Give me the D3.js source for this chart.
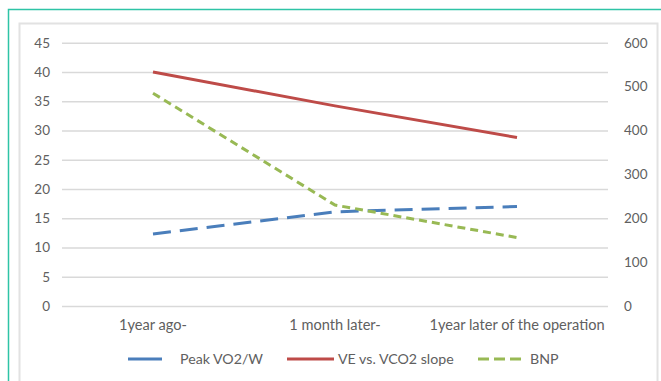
<!DOCTYPE html>
<html>
<head>
<meta charset="utf-8">
<script src="https://cdn.jsdelivr.net/npm/d3@7"></script>
<style>
  html, body { margin: 0; padding: 0; background: #fff; }
  svg { display: block; font-family: Lato, "Open Sans", sans-serif; }
</style>
</head>
<body>
<div id="chart"></div>
<script>
// Données
const categories = ["1year ago-", "1 month later-", "1year later of the operation"];
const peakVO2 = [12.3, 16.1, 17.0];      // axe gauche
const veVco2Slope = [40.0, 34.2, 28.8];  // axe gauche
const bnp = [485, 230, 156];             // axe droit
const leftTicks = [0, 5, 10, 15, 20, 25, 30, 35, 40, 45];
const rightTicks = [0, 100, 200, 300, 400, 500, 600];

const width = 661, height = 381;

const svg = d3.select("#chart")
  .append("svg")
  .attr("width", width)
  .attr("height", height);

// cadre turquoise + cadre gris
svg.append("path")
  .attr("d", `M8.5,${height} V9.5 H${width}`)
  .attr("fill", "none")
  .attr("stroke", "#2ec4a6")
  .attr("stroke-width", 1.5);

svg.append("rect")
  .attr("x", 19.5).attr("y", 23.5)
  .attr("width", 638).attr("height", 400)
  .attr("fill", "none")
  .attr("stroke", "#e2e2e2")
  .attr("stroke-width", 2);

// Échelles
const plotL = 62, plotR = 608, plotT = 42.7, plotB = 306;

const scaleX = d3.scaleBand().domain(categories).range([plotL, plotR]);
const xPos = (c) => scaleX(c) + scaleX.bandwidth() / 2;
const scaleY = d3.scaleLinear().domain([0, 45]).range([plotB, plotT]);
const scaleY2 = d3.scaleLinear().domain([0, 600]).range([plotB, plotT]);

const textColor = "#606060";

// Axe gauche + grille
svg.append("g")
  .attr("transform", `translate(${plotL}, 0)`)
  .call(d3.axisLeft(scaleY).tickValues(leftTicks).tickSize(0).tickPadding(12))
  .call((g) => g.select(".domain").remove())
  .call((g) => g.selectAll(".tick line").clone()
    .attr("x2", plotR - plotL)
    .attr("stroke", "#d9d9d9")
    .attr("stroke-width", 1.5))
  .selectAll("text")
  .style("fill", textColor)
  .style("font-size", "13.5px")
  .style("font-family", "Lato, sans-serif");

// Axe droit
svg.append("g")
  .attr("transform", `translate(${plotR}, 0)`)
  .call(d3.axisRight(scaleY2).tickValues(rightTicks).tickSize(0).tickPadding(16))
  .call((g) => g.select(".domain").remove())
  .selectAll("text")
  .style("fill", textColor)
  .style("font-size", "13.5px")
  .style("font-family", "Lato, sans-serif");

// Axe des X (libellés)
svg.append("g")
  .attr("transform", `translate(0, ${plotB})`)
  .call(d3.axisBottom(scaleX).tickSize(0).tickPadding(14))
  .call((g) => g.select(".domain").remove())
  .selectAll("text")
  .style("fill", textColor)
  .style("font-size", "14.6px")
  .style("font-family", "Lato, sans-serif");

// Séries
const series = [
  { name: "Peak VO2/W", values: peakVO2, y: scaleY, color: "#4a7ebb", dash: "18,9" },
  { name: "VE vs. VCO2 slope", values: veVco2Slope, y: scaleY, color: "#be4b48", dash: null },
  { name: "BNP", values: bnp, y: scaleY2, color: "#98b954", dash: "8,5" },
];

series.forEach((s) => {
  const line = d3.line()
    .x((d, i) => xPos(categories[i]))
    .y((d) => s.y(d));
  const p = svg.append("path")
    .datum(s.values)
    .attr("d", line)
    .attr("fill", "none")
    .attr("stroke", s.color)
    .attr("stroke-width", 3);
  if (s.dash) p.attr("stroke-dasharray", s.dash);
});

// Légende
const legendItems = [
  { x: 128, len: 34, text: 180, dash: null },
  { x: 287, len: 47, text: 338, dash: null },
  { x: 478, len: 47, text: 530, dash: "11,5" },
];
const legendY = 359;

series.forEach((s, i) => {
  const it = legendItems[i];
  const l = svg.append("path")
    .attr("d", `M${it.x},${legendY}H${it.x + it.len}`)
    .attr("fill", "none")
    .attr("stroke", s.color)
    .attr("stroke-width", 3);
  if (it.dash) l.attr("stroke-dasharray", it.dash);

  svg.append("text")
    .attr("x", it.text)
    .attr("y", legendY)
    .attr("dy", "0.35em")
    .text(s.name)
    .style("fill", textColor)
    .style("font-size", "14.2px");
});
</script>
</body>
</html>
